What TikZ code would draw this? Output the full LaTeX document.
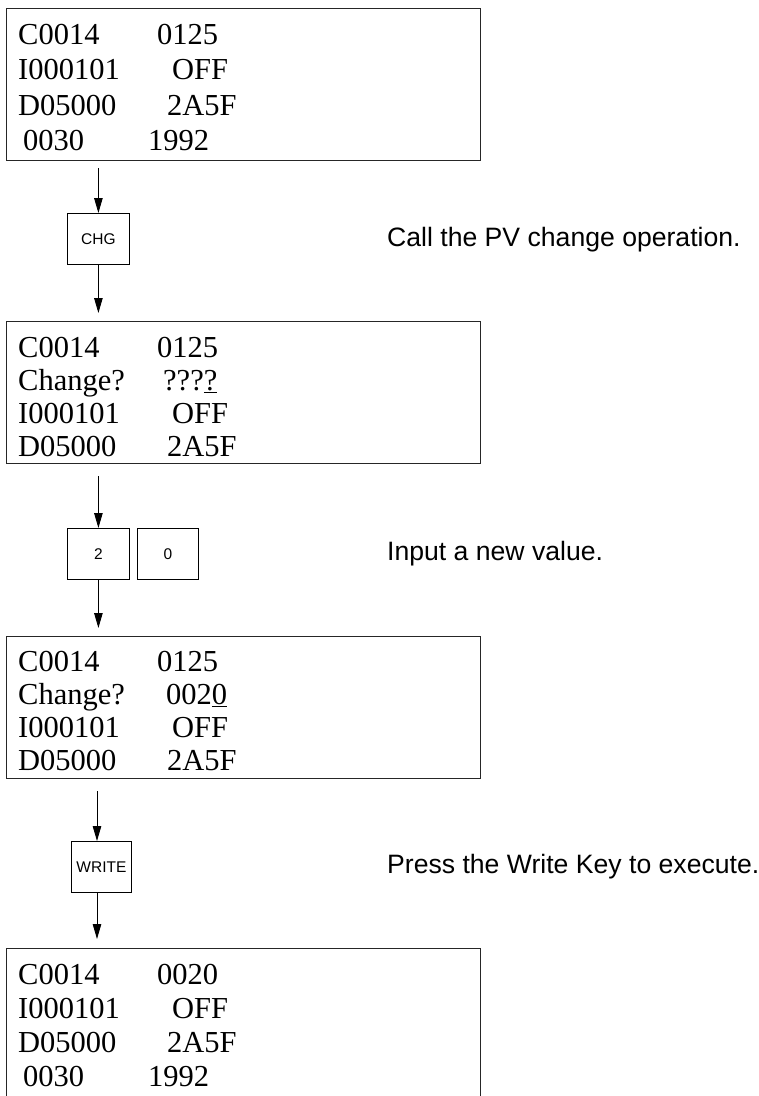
\documentclass[tikz,border=0pt]{standalone}
\usepackage{fontspec}
\setmainfont{Liberation Serif}
\setsansfont{Liberation Sans}
\usetikzlibrary{arrows.meta}
\begin{document}
\begin{tikzpicture}[x=1pt,y=-1pt,
  disp/.style={draw=black!85, line width=1.3pt, rectangle, inner sep=0pt, minimum width=474pt, anchor=north west},
  keybox/.style={draw, line width=0.8pt, rectangle, inner sep=0pt, minimum width=62pt, minimum height=51pt, anchor=north west, font=\sffamily\fontsize{15.5}{18}\selectfont},
  lcd/.style={anchor=base west, inner sep=0pt, font=\fontsize{30.5}{36}\selectfont},
  note/.style={anchor=west, inner sep=0pt, font=\sffamily\fontsize{26.6}{30}\selectfont},
  arr/.style={-{Triangle[width=8.5pt,length=15pt]}, line width=0.9pt}]
\path[use as bounding box] (0,0) rectangle (759,1096);
\clip (0,0) rectangle (759,1096);

% display 1
\node[disp, minimum height=152pt] (b1) at (6,8) {};
\node[lcd] (b1a1) at (18,44) {C0014};   \node[lcd] (b1a2) at (157,44) {0125};
\node[lcd] (b1b1) at (18,79.5) {I000101}; \node[lcd] (b1b2) at (172,79.5) {OFF};
\node[lcd] (b1c1) at (18,115) {D05000};  \node[lcd] (b1c2) at (167,115) {2A5F};
\node[lcd] (b1d1) at (23,150.5) {0030};  \node[lcd] (b1d2) at (148,150.5) {1992};

% key CHG
\node[keybox] (k1) at (67,213) {CHG};
\node[note] (n1) at (387,240) {Call the PV change operation.};

% display 2
\node[disp, minimum height=142pt] (b2) at (6,321) {};
\node[lcd] (b2a1) at (18,357) {C0014};   \node[lcd] (b2a2) at (157,357) {0125};
\node[lcd] (b2b1) at (18,390) {Change?}; \node[lcd] (b2b2) at (163,390) {???\underline{?}};
\node[lcd] (b2c1) at (18,423) {I000101}; \node[lcd] (b2c2) at (172,423) {OFF};
\node[lcd] (b2d1) at (18,456) {D05000};  \node[lcd] (b2d2) at (167,456) {2A5F};

% keys 2 0
\node[keybox] (k2) at (67,528) {2};
\node[keybox, minimum width=61pt] (k3) at (137,528) {0};
\node[note] (n2) at (387,554) {Input a new value.};

% display 3
\node[disp, minimum height=142pt] (b3) at (6,636) {};
\node[lcd] (b3a1) at (18,671) {C0014};   \node[lcd] (b3a2) at (157,671) {0125};
\node[lcd] (b3b1) at (18,704) {Change?}; \node[lcd] (b3b2) at (166,704) {002\underline{0}};
\node[lcd] (b3c1) at (18,737) {I000101}; \node[lcd] (b3c2) at (172,737) {OFF};
\node[lcd] (b3d1) at (18,770) {D05000};  \node[lcd] (b3d2) at (167,770) {2A5F};

% key WRITE
\node[keybox, minimum width=60pt] (k4) at (71,841) {WRITE};
\node[note] (n3) at (387,867) {Press the Write Key to execute.};

% display 4
\node[disp, minimum height=200pt] (b4) at (6,948) {};
\node[lcd] (b4a1) at (18,984) {C0014};   \node[lcd] (b4a2) at (157,984) {0020};
\node[lcd] (b4b1) at (18,1018) {I000101}; \node[lcd] (b4b2) at (172,1018) {OFF};
\node[lcd] (b4c1) at (18,1052) {D05000};  \node[lcd] (b4c2) at (167,1052) {2A5F};
\node[lcd] (b4d1) at (23,1086) {0030};  \node[lcd] (b4d2) at (148,1086) {1992};

% connectors
\coordinate (ax) at (97,0);
\draw[arr, shorten <=7pt] (b1.south -| k1.north) -- (k1.north);
\draw[arr, shorten >=8pt] (k1.south) -- (b2.north -| k1.south);
\draw[arr, shorten <=12pt] (b2.south -| k2.north) -- (k2.north);
\draw[arr, shorten >=8pt] (k2.south) -- (b3.north -| k2.south);
\draw[arr, shorten <=12pt] (b3.south -| ax) -- (k4.north -| ax);
\draw[arr, shorten >=9pt] (k4.south -| ax) -- (b4.north -| ax);
\end{tikzpicture}
\end{document}
